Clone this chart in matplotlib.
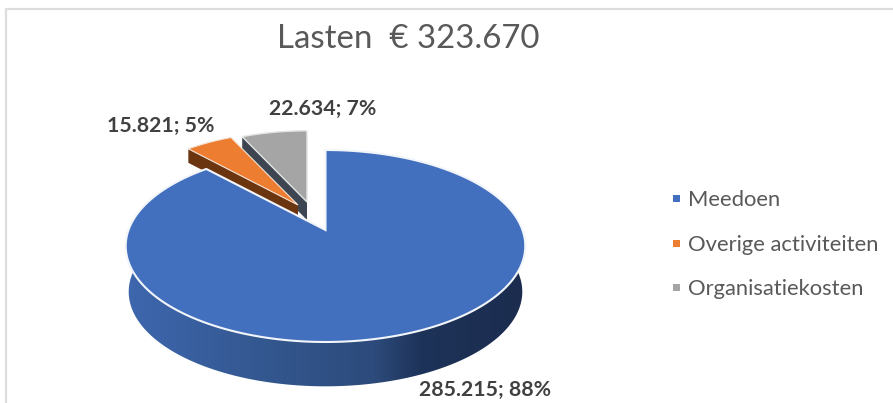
import numpy as np
import matplotlib
matplotlib.use("Agg")
import matplotlib.pyplot as plt
from matplotlib.colors import LinearSegmentedColormap
from matplotlib.patches import Polygon, Rectangle

categories = ["Meedoen", "Overige activiteiten", "Organisatiekosten"]
values = [285215, 15821, 22634]
value_labels = ["285.215; 88%", "15.821; 5%", "22.634; 7%"]
title = "Lasten  € 323.670"

colors = ["#4270BF", "#ED7D31", "#A5A5A5"]
wall_colors = ["#2F5597", "#6B3510", "#3D4650"]

plt.rcParams["font.family"] = ["Lato", "DejaVu Sans"]

fig = plt.figure(figsize=(8.93, 4.03), dpi=100)
ax = fig.add_axes([0, 0, 1, 1])
ax.set_xlim(0, 893)
ax.set_ylim(403, 0)
ax.axis("off")

# chart frame
ax.plot([6, 6, 893], [403, 9, 9], color="#DDDDDD", lw=1.6, zorder=1)

# perspective of the tilted disc: the far side is squeezed
B = 197
A = 93.33
P = 1 / 6


def project(theta, cx, cy, scale=1.0):
    u, v = np.sin(theta), np.cos(theta)
    w = 1 + P * v
    return cx + scale * B * u / w, cy - scale * A * v / w


fractions = np.array(values) / sum(values)
ends = np.cumsum(fractions) * 2 * np.pi
starts = ends - fractions * 2 * np.pi


def top_face(i, cx, cy, scale):
    t = np.linspace(starts[i], ends[i], 200)
    x, y = project(t, cx, cy, scale)
    return np.column_stack([np.r_[cx, x], np.r_[cy, y]])


def radial_wall(cx, cy, scale, theta, depth):
    x, y = project(theta, cx, cy, scale)
    return [(cx, cy), (x, y), (x, y + depth), (cx, cy + depth)]


# apex, radius scale and wall depth of the two pulled out slices
exploded = {1: (298, 205, 0.92, 14), 2: (307, 202, 0.89, 18)}

# grey first, orange over it, big blue slice over both
i = 2
cx, cy, s, depth = exploded[i]
ax.add_patch(Polygon(radial_wall(cx, cy, s, starts[i], depth), fc=wall_colors[i], ec="none", zorder=2))
ax.add_patch(Polygon(top_face(i, cx, cy, s), fc=colors[i], ec="#E4E4E4", lw=1, zorder=3))

i = 1
cx, cy, s, depth = exploded[i]
ax.add_patch(Polygon(radial_wall(cx, cy, s, starts[i], depth), fc=wall_colors[i], ec="none", zorder=4))
ax.add_patch(Polygon(top_face(i, cx, cy, s), fc=colors[i], ec="#F4E4D8", lw=0.8, zorder=5))

# side of the blue slice with horizontal shading
blue_cx, blue_cy = 325.5, 230
side_depth = 46
t_front = np.linspace(np.pi * 0.42, np.pi * 1.58, 300)
x_top, y_top = project(t_front, blue_cx, blue_cy)
x_low, y_low = project(t_front, blue_cx, blue_cy + side_depth, 0.985)
side = Polygon(np.column_stack([np.r_[x_top, x_low[::-1]], np.r_[y_top, y_low[::-1]]]),
               fc="none", ec="none", zorder=6)
ax.add_patch(side)
side_cmap = LinearSegmentedColormap.from_list(
    "side",
    [(0, "#3E67AE"), (0.35, "#33578F"), (0.62, "#2D4B7C"), (0.74, "#1E3359"), (1, "#1B2C4E")],
)
img = ax.imshow(np.linspace(0, 1, 256).reshape(1, -1), cmap=side_cmap, aspect="auto",
                extent=[125, 525, 403, 200], zorder=6)
img.set_clip_path(side)
ax.set_xlim(0, 893)
ax.set_ylim(403, 0)

ax.add_patch(Polygon(top_face(0, blue_cx, blue_cy, 1.0), fc=colors[0], ec="#F2F5FA", lw=1.5,
                     joinstyle="miter", zorder=7))

# value labels
label_pos = [(485, 390), (160.5, 126), (322.5, 109)]
for text, (x, y) in zip(value_labels, label_pos):
    ax.text(x, y, text, fontsize=15.3, fontweight="bold", color="#404040",
            ha="center", va="center", zorder=8)

ax.text(408.5, 39.5, title, fontsize=23.8, color="#595959", ha="center", va="center", zorder=8)

# legend
legend_y = [198, 243, 287]
for name, color, y in zip(categories, colors, legend_y):
    ax.add_patch(Rectangle((672.5, y - 3.5), 7, 7, fc=color, ec="none", zorder=8))
    ax.text(688, y + 2, name, fontsize=15.8, color="#595959", ha="left", va="center", zorder=8)

fig.savefig("out.png", dpi=100)
